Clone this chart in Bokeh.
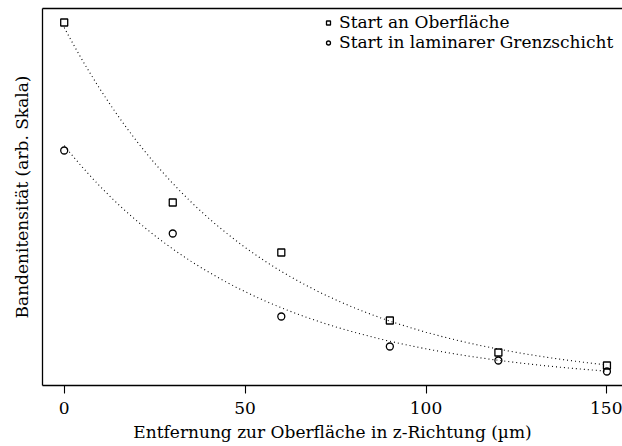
import numpy as np
from bokeh.plotting import figure
from bokeh.models import Range1d, LinearAxis, FixedTicker, Legend, LegendItem
from bokeh.embed import file_html
from bokeh.resources import INLINE

# Distance from the surface (µm) and band intensities (arbitrary units)
distance = [0, 30, 60, 90, 120, 150]
surface_start = [36.3, 18.3, 13.3, 6.5, 3.3, 2.0]
boundary_start = [23.5, 15.2, 6.9, 3.9, 2.5, 1.4]
x_ticks = [0, 50, 100, 150]
series_labels = ["Start an Oberfläche", "Start in laminarer Grenzschicht"]

FONT = "DejaVu Serif"
FS = "17px"


def exp_fit(x, y):
    """Least-squares fit of y = A * exp(-x / t); returns (A, t)."""
    x = np.asarray(x, float)
    y = np.asarray(y, float)
    best = None
    for t in np.linspace(5, 300, 5901):
        e = np.exp(-x / t)
        a = e.dot(y) / e.dot(e)
        sse = np.sum((y - a * e) ** 2)
        if best is None or sse < best[0]:
            best = (sse, a, t)
    return best[1], best[2]


p = figure(width=622, height=446, output_backend="svg", toolbar_location=None,
           x_range=Range1d(-6, 154.3), y_range=Range1d(0, 37.7),
           min_border_left=42, min_border_right=0, min_border_top=8,
           min_border_bottom=61)
p.outline_line_color = None
p.grid.visible = False
p.background_fill_color = "white"
p.border_fill_color = "white"

# bottom axis with ticks
xa = p.xaxis[0]
xa.ticker = FixedTicker(ticks=x_ticks)
xa.axis_label = "Entfernung zur Oberfläche in z-Richtung (µm)"
xa.axis_line_width = 1.3
xa.major_tick_out = 8
xa.major_tick_in = 0
xa.major_tick_line_width = 1.1
xa.minor_tick_line_color = None
xa.major_label_text_font = FONT
xa.major_label_text_font_size = FS
xa.major_label_text_color = "black"
xa.major_label_standoff = 8
xa.axis_label_text_font = FONT
xa.axis_label_text_font_size = FS
xa.axis_label_text_font_style = "normal"
xa.axis_label_text_color = "black"
xa.axis_label_standoff = 5

# left axis: line and title only
ya = p.yaxis[0]
ya.ticker = FixedTicker(ticks=[])
ya.axis_label = "Bandenitensität (arb. Skala)"
ya.axis_line_width = 1.3
ya.major_tick_out = 0
ya.major_tick_in = 0
ya.minor_tick_line_color = None
ya.major_label_standoff = 0
ya.axis_label_text_font = FONT
ya.axis_label_text_font_size = FS
ya.axis_label_text_font_style = "normal"
ya.axis_label_text_color = "black"
ya.axis_label_standoff = 11

# top border line
top = LinearAxis(ticker=FixedTicker(ticks=[]), major_tick_out=0, major_tick_in=0,
                 minor_tick_line_color=None, major_label_standoff=0,
                 axis_line_width=1.3)
p.add_layout(top, "above")

# exponential fit curves
xs = np.linspace(0, 150, 301)
for ys in (surface_start, boundary_start):
    a, t = exp_fit(distance, ys)
    p.line(xs, a * np.exp(-xs / t), line_color="black", line_width=1.1,
           line_dash="1 3")

sq = p.scatter(distance, surface_start, marker="square", size=7,
               fill_color=None, line_color="black", line_width=1.3)
ci = p.scatter(distance, boundary_start, marker="circle", size=7,
               fill_color=None, line_color="black", line_width=1.3)

legend = Legend(items=[LegendItem(label=series_labels[0], renderers=[sq]),
                       LegendItem(label=series_labels[1], renderers=[ci])],
                location=(281, 333), padding=0, margin=0, spacing=0,
                glyph_width=10, glyph_height=17, label_height=17,
                label_standoff=6, border_line_color=None,
                background_fill_alpha=0, label_text_font=FONT,
                label_text_font_size=FS, label_text_color="black")
p.add_layout(legend)

open("out.html", "w").write(file_html(p, INLINE))
